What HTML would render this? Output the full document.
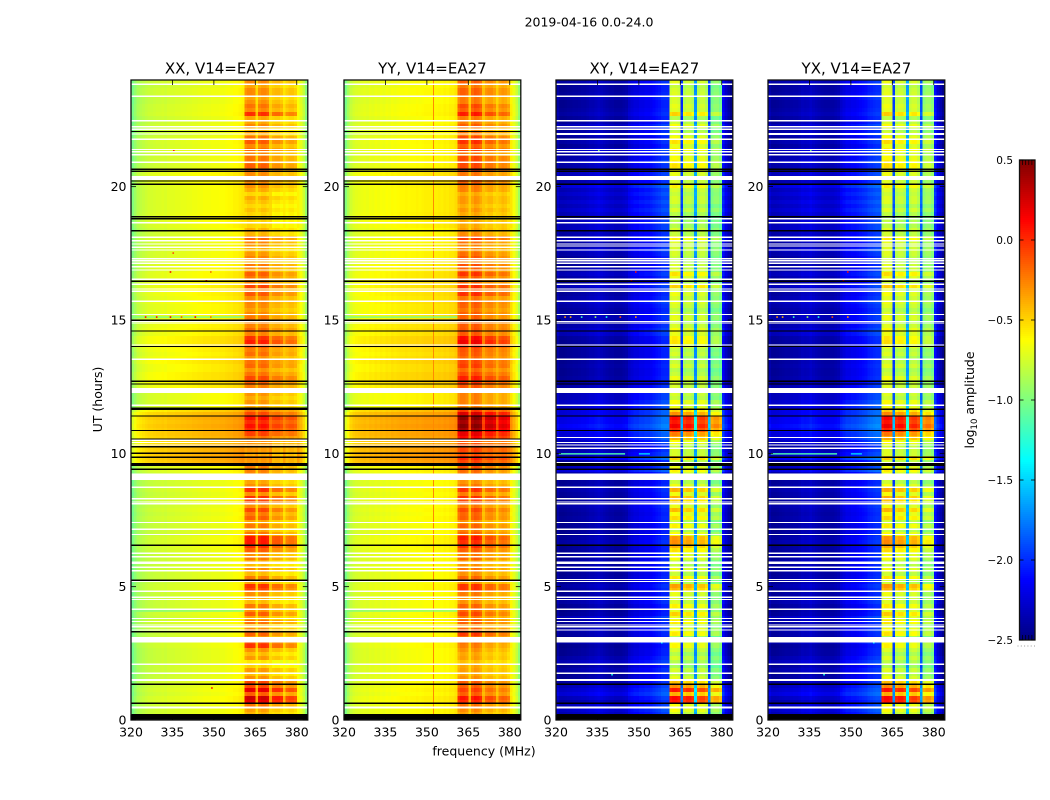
<!DOCTYPE html>
<html lang="en">
<head>
<meta charset="utf-8">
<title>2019-04-16 0.0-24.0</title>
<style>
html,body{margin:0;padding:0;background:#fff;}
svg{display:block;font-family:"DejaVu Sans","Liberation Sans",sans-serif;}
.cell{shape-rendering:crispEdges;}
</style>
</head>
<body>
<svg id="figure" xmlns="http://www.w3.org/2000/svg" width="1050" height="800" viewBox="0 0 1050 800">
<rect x="0" y="0" width="1050" height="800" fill="#fff"/>
<text x="589" y="26.5" font-size="12.5" text-anchor="middle" fill="#000">2019-04-16 0.0-24.0</text>
<text x="484" y="755.5" font-size="12.5" text-anchor="middle" fill="#000">frequency (MHz)</text>
<text transform="translate(102,399.5) rotate(-90)" font-size="12.5" text-anchor="middle" fill="#000">UT (hours)</text>
<text transform="translate(974,400) rotate(-90)" font-size="12.5" text-anchor="middle" fill="#000">log<tspan font-size="8.5" dy="3">10</tspan><tspan dy="-3"> amplitude</tspan></text>
<g id="panels"></g>
<g id="colorbar"></g>
</svg>
<script>
// Channels (MHz, lower edge of each 1 MHz channel)
const channels = [320,321,322,323,324,325,326,327,328,329,330,331,332,333,334,335,336,337,338,339,340,341,342,343,344,345,346,347,348,349,350,351,352,353,354,355,356,357,358,359,360,361,362,363,364,365,366,367,368,369,370,371,372,373,374,375,376,377,378,379,380,381,382,383];

// Time-averaged log10 amplitude per channel
const xxSpectrum = [-1.04,-.96,-.89,-.86,-.84,-.82,-.8,-.8,-.79,-.78,-.78,-.77,-.78,-.76,-.76,-.76,-.75,-.75,-.74,-.74,-.73,-.73,-.72,-.72,-.71,-.71,-.7,-.7,-.7,-.69,-.69,-.69,-.68,-.68,-.67,-.66,-.66,-.64,-.64,-.62,-.6,-.46,-.42,-.42,-.44,-.56,-.46,-.42,-.42,-.46,-.54,-.56,-.54,-.54,-.58,-.6,-.6,-.56,-.56,-.6,-.64,-.72,-.82,-.99];
const yySpectrum = [-1.03,-.91,-.81,-.77,-.75,-.74,-.73,-.72,-.73,-.71,-.72,-.7,-.71,-.69,-.7,-.68,-.69,-.67,-.68,-.67,-.66,-.66,-.65,-.66,-.65,-.65,-.64,-.65,-.64,-.63,-.63,-.63,-.63,-.63,-.62,-.63,-.61,-.62,-.6,-.6,-.57,-.42,-.36,-.36,-.4,-.52,-.4,-.34,-.36,-.42,-.5,-.5,-.46,-.46,-.52,-.54,-.5,-.46,-.48,-.54,-.6,-.7,-.8,-.96];
const xySpectrum = [-2.4,-2.46,-2.46,-2.45,-2.44,-2.43,-2.42,-2.42,-2.41,-2.4,-2.4,-2.38,-2.36,-2.36,-2.34,-2.32,-2.34,-2.36,-2.38,-2.4,-2.4,-2.42,-2.42,-2.42,-2.4,-2.38,-2.3,-2.26,-2.23,-2.23,-2.2,-2.2,-2.18,-2.18,-2.16,-2.13,-2.1,-2.08,-2.04,-2.03,-2.03,-.92,-.88,-.88,-.92,-2.05,-1.0,-.95,-.95,-1.02,-1.75,-.98,-.92,-.92,-1.0,-2.0,-1.14,-1.08,-1.08,-1.16,-2.15,-2.3,-2.4,-2.5];
const yxSpectrum = [-2.38,-2.44,-2.44,-2.43,-2.42,-2.41,-2.4,-2.4,-2.39,-2.38,-2.38,-2.36,-2.33,-2.34,-2.33,-2.3,-2.33,-2.35,-2.37,-2.39,-2.4,-2.4,-2.4,-2.4,-2.38,-2.36,-2.28,-2.24,-2.2,-2.2,-2.18,-2.18,-2.16,-2.14,-2.12,-2.1,-2.06,-2.04,-2.02,-2,-2,-.92,-.86,-.86,-.9,-2.0,-.98,-.93,-.93,-1.0,-1.7,-.95,-.9,-.9,-.98,-1.95,-1.08,-1.02,-1.02,-1.1,-2.1,-2.27,-2.37,-2.47];

// How strongly each channel follows the in-band per-row variation
const bandGain = [0,0,0,0,0,0,0,0,0,0,0,0,0,0,0,0,0,0,0,0,0,0,0,0,0,0,0,0,0,0,0,0,0,0,0,0,0,0,0,0,0,1,1,1,1,.25,1,1,1,1,.25,.85,.85,.85,.85,.25,.7,.7,.7,.7,0,0,0,0];

// Time bins of 0.15 h, listed from 0 h upward (160 bins)
const binHours = 0.15;
const xxContinuum = [
.02,.02,.02,.02,.05,.05,.02,.04,.02,.02,
0,0,0,0,0,0,0,0,.02,.02,
0,0,0,0,.02,0,.02,0,0,0,
0,0,.02,.02,0,0,0,0,0,0,
0,0,.02,.03,.03,.03,0,0,0,0,
.02,0,.02,0,.02,.02,0,.02,0,0,
0,.03,.05,.05,.3,.32,.32,.3,.28,.25,
.28,.3,.3,.32,.3,.32,.28,.2,.05,.05,
.05,.05,.08,.12,.15,.15,.15,.12,.12,.15,
.12,.1,.12,.15,.15,.15,.1,.12,.1,.1,
.08,.08,.08,.08,.1,.08,.1,.1,.1,.1,
.08,.08,.06,.06,.04,.04,.04,.03,.03,.03,
.05,.02,.02,.05,.06,.06,.06,.05,.05,.05,
.05,.05,.05,.06,.08,.1,.08,.05,.02,.02,
.02,.02,.03,.02,.03,.02,0,0,.02,0,
0,.03,.02,.02,0,0,.02,.02,0,.02];
const xxBand = [
0,0,.05,.15,.45,.5,.2,.45,.25,.25,
.1,0,.08,-.05,-.1,.08,0,.1,.3,.25,
.1,.2,.1,0,.15,.05,.2,.1,.15,0,
.05,.1,.25,.3,.05,.15,0,.1,0,.05,
.15,.1,.2,.3,.35,.35,.15,.05,.15,.05,
.2,.15,.25,.1,.25,.3,.1,.3,.1,.05,
.05,.1,.1,.1,-.15,-.15,-.2,-.15,-.15,-.1,
-.05,.05,.1,.15,.1,.15,.05,0,0,.05,
0,.05,.05,.05,.1,.15,.05,0,.1,.05,
0,.1,.05,.1,.25,.2,.05,.1,.05,.05,
.1,.05,0,.05,.05,.05,.15,.05,.2,.05,
.1,.15,.05,.1,0,.1,.05,0,.05,.1,
.15,0,0,-.1,-.1,-.1,-.1,-.05,-.1,-.05,
0,-.1,0,.05,.05,.05,.05,.15,.2,.15,
.15,.1,.15,.1,.2,.15,.05,0,.1,.05,
.05,.3,.1,.15,.1,.05,.1,.1,.05,.1];
const yyBand = [
0,0,.05,.1,.25,.3,.15,.2,.15,.15,
.05,0,.02,0,-.05,.02,0,.05,.08,.1,
.15,.25,.15,.05,.15,.1,.2,.15,.15,.05,
.05,.1,.25,.25,.05,.15,.05,.1,.05,.05,
.15,.1,.15,.25,.25,.3,.15,.1,.15,.05,
.15,.15,.2,.1,.2,.25,.1,.25,.1,.05,
.05,.1,.1,.15,0,.05,-.05,0,0,0,
.15,.2,.35,.4,.35,.4,.25,.1,.05,.05,
.05,.05,.1,.1,.15,.2,.1,.05,.15,.1,
.05,.1,.1,.15,.3,.25,.1,.1,.1,.1,
.1,.1,.05,.1,.1,.05,.2,.1,.2,.05,
.1,.2,.1,.15,.05,.15,.1,.05,.05,.1,
.2,.05,0,-.05,-.05,-.1,-.05,0,-.05,0,
0,-.05,.05,.05,.1,.1,.05,.2,.2,.2,
.2,.1,.2,.15,.25,.2,.1,.05,.15,.1,
.1,.3,.15,.2,.1,.1,.15,.15,.1,.15];
const crossContinuum = [
.1,.1,.15,.1,.05,.1,.2,.15,.1,.05,
0,0,.05,0,.1,.05,0,0,-.02,.05,
0,.02,.05,0,.02,.1,0,-.02,0,.05,
.05,0,.02,.05,0,.02,0,.02,0,.02,
0,.02,0,0,.05,.02,0,-.02,0,0,
.02,0,.02,.05,0,0,.02,.05,.02,0,
0,.05,.2,.1,.02,.25,.1,.05,.02,.1,
.2,.2,.25,.3,.25,.25,.2,.2,.15,.15,
.1,.1,.05,.05,0,.02,0,0,.02,0,
0,0,0,.02,0,.02,.1,.1,.05,0,
.05,.05,.02,.05,.1,.05,.02,.05,.1,0,
.05,.1,.05,0,.05,0,.05,.1,.05,.02,
.1,.05,.1,.1,.1,.05,.1,.15,.1,.15,
.1,.15,.1,.2,.05,.1,.1,.05,.05,.1,
.05,.05,.1,0,.05,0,.05,.02,.1,.02,
0,.05,.02,0,0,.05,.02,0,0,.05];
const crossBand = [
0,.05,.1,.15,.9,.9,.3,.8,.5,.4,
.2,.1,.1,0,-.05,.1,.05,.15,.3,.2,
0,.3,.2,.1,.3,.1,.4,.2,.3,.1,
.1,.2,.45,.5,.1,.3,.1,.2,.1,.1,
.25,.2,.35,.5,.55,.55,.25,.1,.3,.1,
.35,.25,.45,.15,.4,.5,.2,.45,.2,.1,
.1,.15,.1,.1,.1,.15,.05,.1,.1,.15,
.3,.45,.65,.75,.7,.75,.4,.2,.05,.1,
0,.05,.05,.1,.15,.2,.1,.05,.15,.1,
.05,.15,.1,.2,.35,.3,.1,.15,.1,.1,
.15,.1,.05,.1,.1,.1,.2,.1,.3,.1,
.15,.25,.1,.15,.05,.1,.1,.05,.1,.15,
.2,.05,.05,-.05,-.05,-.05,-.05,0,-.05,0,
.05,-.05,.05,.1,.1,.1,.1,.2,.3,.2,
.2,.15,.2,.2,.3,.25,.1,.05,.15,.1,
.05,.35,.15,.2,.15,.1,.15,.15,.1,.15];

// Flagged integrations (hours). Thin = single integration; thick = [start, end]
const parallelWhiteThin = [23.84,23.39,22.47,22.25,22.15,21.98,21.78,21.39,21.31,21.2,18.65,18.1,17.97,17.85,17.73,17.63,17.3,17.22,17.13,17,16.88,16.53,16.34,16.16,16.08,15.7,15.21,14.94,14.89,14.06,13.53,11.8,10.49,10.41,10.31,8.73,8.3,8.18,8.11,7.41,7.15,6.96,6.25,6.12,5.93,5.88,5.73,5.6,5.19,4.83,4.6,4.52,4.15,3.81,3.69,3.56,3.5,3.38,2.09,1.75];
const parallelWhiteThick = [[20.88,20.95],[20.25,20.4],[12.26,12.45],[9,9.25],[2.9,3.12],[1.47,1.54],[.43,.5]];
const parallelBlackThin = [22.07,20.65,20.58,20.21,20.09,18.87,18.8,16.45,14.99,14.59,14.01,12.6,11.7,11.65,11.4,10.86,10.54,10.25,10,9.85,9.4,6.55,5.24,3.31,1.34,.63];
const parallelBlackThick = [[18.31,18.37],[12.67,12.73],[9.53,9.63],[3.28,3.34],[0,.22]];
const crossWhiteThin = [23.84,23.39,22.47,22.25,22.15,21.78,21.39,21.31,21.2,18.8,18.65,18.1,17.97,17.85,17.78,17.63,17.3,17.22,17.13,17,16.88,16.53,16.34,16.16,16.08,15.7,15.21,14.94,14.89,14.06,13.53,11.8,10.59,10.41,10.31,10.19,9.66,8.73,8.3,8.18,8.11,7.41,7.15,6.96,6.25,6.12,5.93,5.88,5.73,5.6,5.27,5.19,4.83,4.6,4.52,4.15,3.81,3.69,3.56,3.5,3.38,2.09,1.75];
const crossWhiteThick = [[21.94,22.02],[20.88,20.95],[20.25,20.4],[12.26,12.45],[9,9.25],[2.9,3.12],[1.47,1.54],[.43,.5]];
const crossBlackThin = [20.65,20.58,20.09,18.87,16.45,14.59,14.01,12.6,11.65,11.4,10.86,9.85,9.4,6.55,1.34,.63];
const crossBlackThick = [[18.31,18.37],[12.67,12.73],[9.53,9.63],[0,.22]];

// Isolated bright samples: [hour, MHz, log10 amplitude]
const parallelSpecks = [[21.37,335.2,.1],[17.51,335,-.1],[16.8,334,.1],[16.8,348.6,-.2],[16.5,347,.15],[15.11,325,.1],[15.11,329,.1],[15.11,334,.15],[15.11,338,-.1],[15.11,343,.15],[15.11,348.6,-.2],[1.2,349,.1]];
const crossSpecks = [[21.37,335.2,-1],[16.8,348.6,.1],[16.5,347,.15],[15.11,323,-.3],[15.11,325,-.4],[15.11,329,-1.2],[15.11,334,-.9],[15.11,338,-1.3],[15.11,343,-.1],[15.11,348.6,-.3],[1.7,340,-1.3],[2.9,358,-1.4]];
// Narrow horizontal streaks: [hour, startMHz, endMHz, log10 amplitude]
const parallelStreaks = [[15.11,320,361,-1.02],[4.09,320,361,-1.0]];
const crossStreaks = [[9.98,321,345,-1.15],[9.98,350,354,-1.5],[9.6,323,330,-1.6]];
// Narrow vertical RFI column in YY: [MHz, log10 amplitude]
const yyColumns = [[352.4,-.28]];

// Tick labels
const xTicks = [320,335,350,365,380];
const yTicks = [0,5,10,15,20];
const colorTicks = [0.5,0,-0.5,-1,-1.5,-2,-2.5];

const panelNames = ["XX, V14=EA27","YY, V14=EA27","XY, V14=EA27","YX, V14=EA27"];
const panelLefts = [131,344,556,768];
const titleCentres = [220.3,432.4,644.4,856.4];

const SVGNS = "http://www.w3.org/2000/svg";
const PW = 176.8, PT = 80, PB = 720;
function jetChannel(t, offset){
  const v = 1.5 - Math.abs(4*t - offset);
  return Math.round(255*Math.max(0,Math.min(1,v)));
}
function colorOf(v){
  const t = Math.max(0,Math.min(1,(v+2.5)/3));
  return "rgb("+jetChannel(t,3)+","+jetChannel(t,2)+","+jetChannel(t,1)+")";
}
function yScale(h){ return PB - (h/24)*(PB-PT); }
function makeX(left){ return function(f){ return left + (f-320)/64*PW; }; }
function add(parent, tag, attrs){
  const el = document.createElementNS(SVGNS, tag);
  for(const k in attrs){ el.setAttribute(k, attrs[k]); }
  parent.appendChild(el);
  return el;
}

function drawHeatmap(g, xs, spectrum, cont, band, scale){
  const frag = document.createDocumentFragment();
  const cw = xs(321)-xs(320);
  for(let r=0;r<cont.length;r++){
    const y1 = yScale(r*binHours), y0 = yScale((r+1)*binHours);
    for(let c=0;c<channels.length;c++){
      const val = spectrum[c] + cont[r] + scale*band[r]*bandGain[c];
      const el = add(frag,"rect",{class:"cell",x:xs(channels[c]).toFixed(2),y:y0,width:cw.toFixed(2),height:y1-y0,fill:colorOf(val)});
      
      
    }
  }
  g.appendChild(frag);
}
function drawFlags(g, xs, thin, thick, color, name){
  thin.forEach(function(h){
    const el = add(g,"rect",{class:"cell",x:xs(320),y:yScale(h)-0.6,width:PW,height:1.2,fill:color});
    
    
  });
  thick.forEach(function(t){
    const el = add(g,"rect",{class:"cell",x:xs(320),y:yScale(t[1]),width:PW,height:yScale(t[0])-yScale(t[1]),fill:color});
    
    
  });
}
function drawSpecks(g, xs, specks){
  specks.forEach(function(s){
    const el = add(g,"rect",{x:xs(s[1]),y:yScale(s[0])-0.8,width:1.6,height:1.6,fill:colorOf(s[2])});
    
    
  });
}
function drawStreaks(g, xs, streaks){
  streaks.forEach(function(s){
    const el = add(g,"rect",{x:xs(s[1]),y:yScale(s[0])-0.7,width:xs(s[2])-xs(s[1]),height:1.4,fill:colorOf(s[3])});
    
    
  });
}
function drawColumns(g, xs, columns){
  columns.forEach(function(s){
    const el = add(g,"rect",{x:xs(s[0])-0.5,y:PT,width:1,height:PB-PT,fill:colorOf(s[1])});
    
    
  });
}
function drawAxes(g, xs, left, title, titleX){
  const right = left+PW;
  const frame = add(g,"rect",{x:left,y:PT,width:PW,height:PB-PT,fill:"none",stroke:"#111","stroke-width":1.3});
  
  
  xTicks.forEach(function(t){
    const x = xs(t);
    const a = add(g,"line",{x1:x,x2:x,y1:PB,y2:PB-5,stroke:"#000","stroke-width":0.8});
    
    
    const b = add(g,"line",{x1:x,x2:x,y1:PT,y2:PT+5,stroke:"#000","stroke-width":0.8});
    
    
    const l = add(g,"text",{x:x,y:736.5,"font-size":12.5,"text-anchor":"middle",fill:"#000"});
    
    
    l.textContent = t;
  });
  yTicks.forEach(function(t){
    const y = yScale(t);
    const a = add(g,"line",{x1:left,x2:left+5,y1:y,y2:y,stroke:"#000","stroke-width":0.8});
    
    
    const b = add(g,"line",{x1:right,x2:right-5,y1:y,y2:y,stroke:"#000","stroke-width":0.8});
    
    
    const l = add(g,"text",{x:left-4.5,y:y+4.5,"font-size":12.5,"text-anchor":"end",fill:"#000"});
    
    
    l.textContent = t;
  });
  const tt = add(g,"text",{x:titleX,y:73.5,"font-size":15,"text-anchor":"middle",fill:"#000"});
  
  
  tt.textContent = title;
}

const panelsRoot = document.getElementById("panels");
const panelConfigs = [
  {s:xxSpectrum,c:xxContinuum,b:xxBand,k:1.3,wt:parallelWhiteThin,wk:parallelWhiteThick,bt:parallelBlackThin,bk:parallelBlackThick,sp:parallelSpecks,st:parallelStreaks,col:[]},
  {s:yySpectrum,c:xxContinuum,b:yyBand,k:1.3,wt:parallelWhiteThin,wk:parallelWhiteThick,bt:parallelBlackThin,bk:parallelBlackThick,sp:[],st:parallelStreaks,col:yyColumns},
  {s:xySpectrum,c:crossContinuum,b:crossBand,k:1,wt:crossWhiteThin,wk:crossWhiteThick,bt:crossBlackThin,bk:crossBlackThick,sp:crossSpecks,st:crossStreaks,col:[]},
  {s:yxSpectrum,c:crossContinuum,b:crossBand,k:1,wt:crossWhiteThin,wk:crossWhiteThick,bt:crossBlackThin,bk:crossBlackThick,sp:crossSpecks,st:crossStreaks,col:[]}
];
panelConfigs.forEach(function(cfg,i){
  const g = add(panelsRoot,"g",{});
  
  
  const xs = makeX(panelLefts[i]);
  drawHeatmap(g,xs,cfg.s,cfg.c,cfg.b,cfg.k);
  drawColumns(g,xs,cfg.col);
  drawStreaks(g,xs,cfg.st);
  drawSpecks(g,xs,cfg.sp);
  drawFlags(g,xs,cfg.wt,cfg.wk,"#fff","flagged-row-white");
  drawFlags(g,xs,cfg.bt,cfg.bk,"#000","flagged-row-black");
  drawAxes(g,xs,panelLefts[i],panelNames[i],titleCentres[i]);
});

// Colorbar
const cb = document.getElementById("colorbar");
const CL = 1019.5, CW = 15.5, CT = 160, CB = 640;
function cbY(v){ return CB - (v+2.5)/3*(CB-CT); }
for(let i=0;i<240;i++){
  const v0 = -2.5 + i/80;
  const seg = add(cb,"rect",{class:"cell",x:CL,y:cbY(v0+1/80),width:CW,height:cbY(v0)-cbY(v0+1/80),fill:colorOf(v0+1/160)});
  
  
}
const cbFrame = add(cb,"rect",{x:CL,y:CT,width:CW,height:CB-CT,fill:"none",stroke:"#111","stroke-width":1.3});


colorTicks.forEach(function(t){
  const y = cbY(t);
  const a = add(cb,"line",{x1:CL,x2:CL+4,y1:y,y2:y,stroke:"#000","stroke-width":0.8});
  
  
  const b = add(cb,"line",{x1:CL+CW,x2:CL+CW-4,y1:y,y2:y,stroke:"#000","stroke-width":0.8});
  
  
  const l = add(cb,"text",{x:1013,y:y+4,"font-size":10.5,"text-anchor":"end",fill:"#000"});
  
  
  l.textContent = (t<0?"\u2212":"") + Math.abs(t).toFixed(1);
});
for(let k=1;k<=4;k++){
  const x = CL + k*CW/5;
  const a = add(cb,"line",{x1:x,x2:x,y1:CT,y2:CT+5,stroke:"#000","stroke-width":0.7});
  
  
  const b = add(cb,"line",{x1:x,x2:x,y1:CB,y2:CB-5,stroke:"#000","stroke-width":0.7});
  
  
}
for(let k=0;k<6;k++){
  const d = add(cb,"rect",{x:1017.5+k*3.3,y:645.5,width:1,height:1,fill:"#999"});
  
  
}
</script>
</body>
</html>
